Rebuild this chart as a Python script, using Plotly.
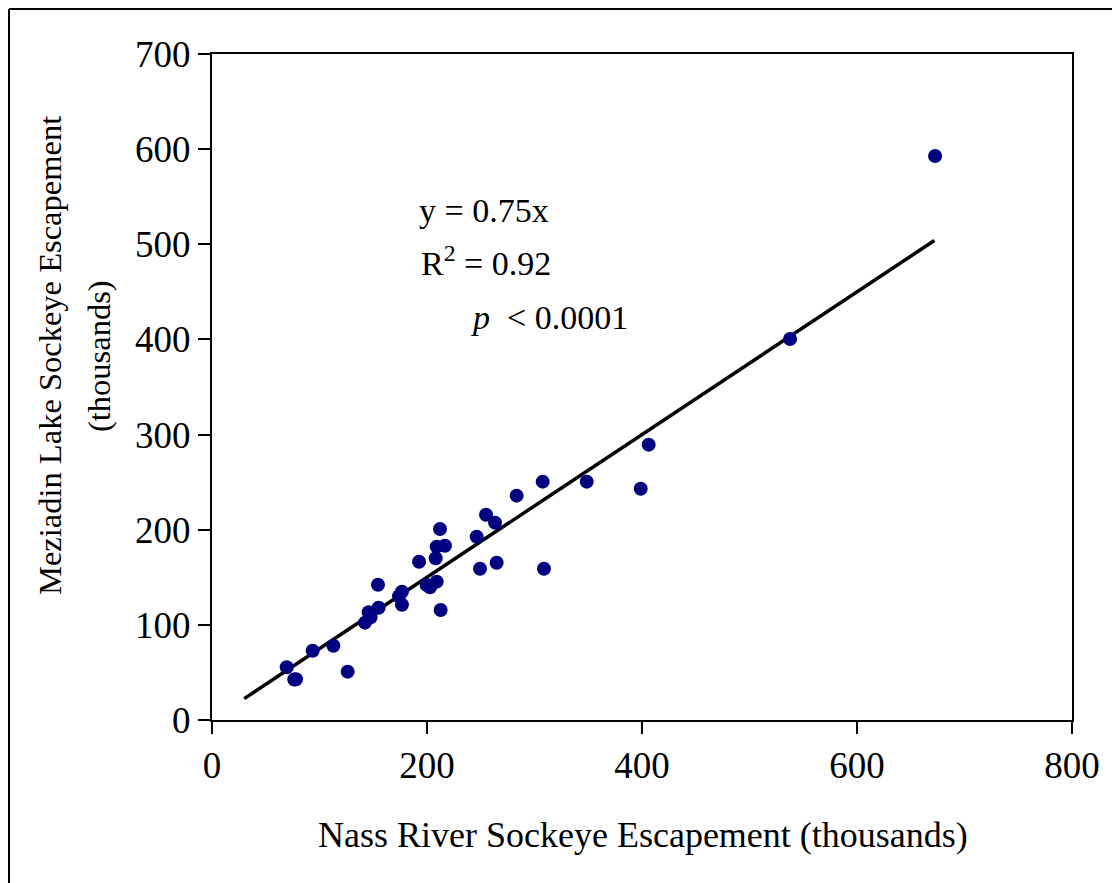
import plotly.graph_objects as go

# Nass River escapement (thousands) vs Meziadin Lake escapement (thousands)
nass = [672.6, 537.7, 406.2, 398.8, 348.6, 307.6, 308.8, 283.4, 254.9, 263.3,
        246.2, 264.8, 249.3, 212.1, 209.0, 216.7, 208.1, 192.6, 209.0, 202.8,
        199.7, 212.7, 154.4, 176.7, 176.7, 155.0, 145.7, 142.3, 112.9, 93.6,
        69.5, 78.1, 76.5, 126.2, 174.0, 147.5]
meziadin = [592.8, 400.5, 289.4, 243.1, 250.5, 250.5, 159.0, 235.8, 215.8, 207.4,
            192.7, 165.3, 159.0, 200.8, 182.2, 183.2, 170.0, 166.4, 145.4, 139.5,
            141.9, 115.6, 142.2, 134.9, 121.2, 118.0, 113.2, 102.3, 78.1, 72.8,
            55.4, 42.8, 42.5, 50.8, 130.0, 108.0]

slope = 0.75
trend_x = [30, 672]
trend_y = [slope * v for v in trend_x]

x_ticks = [0, 200, 400, 600, 800]
y_ticks = [0, 100, 200, 300, 400, 500, 600, 700]

FONT = "Liberation Serif, Times New Roman, serif"

fig = go.Figure()
fig.add_trace(go.Scatter(x=trend_x, y=trend_y, mode="lines",
                         line=dict(color="black", width=3.5), showlegend=False,
                         hoverinfo="skip"))
fig.add_trace(go.Scatter(x=nass, y=meziadin, mode="markers",
                         marker=dict(color="#000080", size=14, line=dict(width=0)),
                         showlegend=False))

axis_common = dict(showline=True, linecolor="black", linewidth=2, mirror=True,
                   ticks="outside", ticklen=12, tickwidth=2, tickcolor="black",
                   showgrid=False, zeroline=False,
                   tickfont=dict(family=FONT, size=37, color="black"))

fig.update_xaxes(range=[0, 800], tickvals=x_ticks, **axis_common)
fig.update_yaxes(range=[0, 700], tickvals=y_ticks, **axis_common)

# page body adds an 8px offset; compensate so the picture lands at reference pixels
OFF = 8
W, H = 1120 - OFF, 883 - OFF
PL, PR, PT, PB = 212, 1072, 54, 720  # plot area in reference pixels
pw, ph = PR - PL, PB - PT
L, T = PL - OFF, PT - OFF
R = W - L - pw
B = H - T - ph

def px(xp):
    return (xp - PL) / pw

def py(yp):
    return (PB - yp) / ph

ann = []
ann.append(dict(x=px(50), y=py(356), text="Meziadin Lake Sockeye Escapement", textangle=-90,
                xanchor="center", yanchor="middle", font=dict(family=FONT, size=32.5, color="black")))
ann.append(dict(x=px(99), y=py(356), text="(thousands)", textangle=-90,
                xanchor="center", yanchor="middle", font=dict(family=FONT, size=32.5, color="black")))
ann.append(dict(x=px(643), y=py(835), text="Nass River Sockeye Escapement (thousands)",
                xanchor="center", yanchor="middle", font=dict(family=FONT, size=36, color="black")))
for a in ann:
    a.update(xref="paper", yref="paper", showarrow=False)

eq = [
    dict(x=px(417), y=py(210), text="y = 0.75x"),
    dict(x=px(419), y=py(261), text="R<sup>2</sup> = 0.92"),
    dict(x=px(469), y=py(318), text="<i>p</i>  < 0.0001"),
]
for a in eq:
    a.update(xref="paper", yref="paper", showarrow=False, xanchor="left", yanchor="middle",
             font=dict(family=FONT, size=34, color="black"))

# outer frame (left and top edges, as in the reference)
EDGE = OFF + 1
shapes = [
    dict(type="line", xref="paper", yref="paper", x0=px(EDGE), x1=px(EDGE), y0=py(EDGE), y1=py(900),
         line=dict(color="black", width=2)),
    dict(type="line", xref="paper", yref="paper", x0=px(EDGE), x1=px(1130), y0=py(EDGE), y1=py(EDGE),
         line=dict(color="black", width=2)),
]

fig.update_layout(width=W, height=H, margin=dict(l=L, r=R, t=T, b=B, autoexpand=False),
                  plot_bgcolor="white", paper_bgcolor="white",
                  annotations=ann + eq, shapes=shapes,
                  font=dict(family=FONT, color="black"))

fig.write_html("out.html")
